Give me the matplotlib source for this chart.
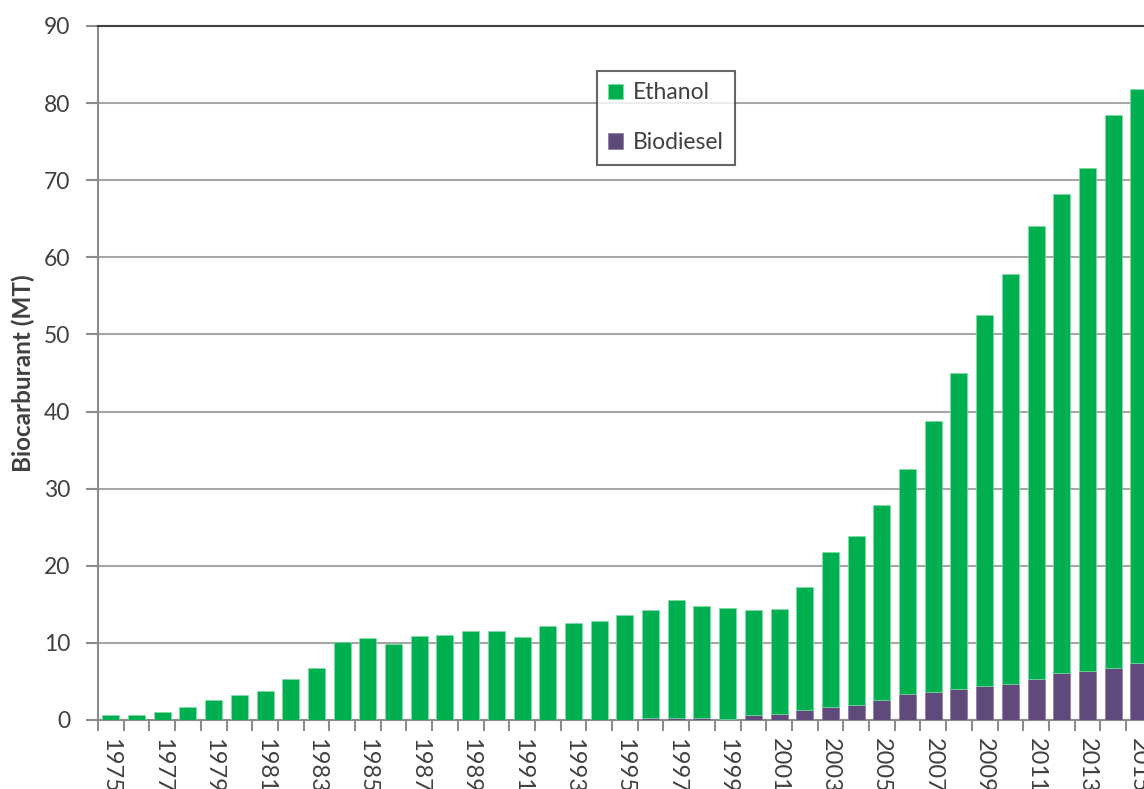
import matplotlib
matplotlib.use("Agg")
import matplotlib.pyplot as plt
import numpy as np

years = list(range(1975, 2016))
biodiesel = [0, 0, 0, 0, 0, 0, 0, 0, 0, 0,
             0, 0, 0, 0, 0, 0, 0, 0, 0, 0,
             0, 0.2, 0.25, 0.2, 0.15, 0.6, 0.74, 1.25, 1.65, 1.9,
             2.64, 3.33, 3.68, 3.98, 4.37, 4.71, 5.36, 6.05, 6.4, 6.7,
             7.43]
ethanol = [0.65, 0.65, 1.1, 1.65, 2.6, 3.3, 3.76, 5.36, 6.74, 10.1,
           10.63, 9.8, 10.85, 10.98, 11.5, 11.5, 10.8, 12.2, 12.54, 12.84,
           13.57, 14.02, 15.35, 14.58, 14.42, 13.62, 13.61, 16.05, 20.1, 21.9,
           25.26, 29.27, 35.12, 40.98, 48.13, 53.19, 58.7, 62.15, 65.2, 71.7,
           74.37]
yticks = [0, 10, 20, 30, 40, 50, 60, 70, 80, 90]

GREEN = "#00B050"
PURPLE = "#604A7B"
TXT = "#404040"
FONT = "Lato"

plt.rcParams["font.family"] = [FONT, "DejaVu Sans"]

fig = plt.figure(figsize=(11.44, 7.89), dpi=100)
ax = fig.add_axes([98 / 1144, 69 / 789, 1079.4 / 1144, 694 / 789])

x = np.arange(len(years))
ax.bar(x, biodiesel, width=0.66, color=PURPLE, label="Biodiesel", zorder=3,
       edgecolor="#8a7aa0", linewidth=0.5)
ax.bar(x, ethanol, width=0.66, bottom=biodiesel, color=GREEN, label="Ethanol",
       zorder=3, edgecolor="#7fdca5", linewidth=0.5)

ax.set_xlim(-0.5, len(years) + 0.5)
ax.set_ylim(0, 90)
ax.set_yticks(yticks)
ax.set_yticklabels([str(v) for v in yticks], fontsize=16.5, color=TXT)
ax.yaxis.grid(True, color="#a6a6a6", linewidth=1.5, zorder=0)
ax.set_axisbelow(True)

# x ticks: marks at category boundaries, labels at odd years
ax.set_xticks(np.arange(-0.5, len(years) + 1.0, 1.0))
ax.set_xticklabels([])
odd_idx = [i for i, y in enumerate(years) if y % 2 == 1]
ax.set_xticks(odd_idx, minor=True)
ax.set_xticklabels([str(years[i]) for i in odd_idx], minor=True,
                   rotation=270, fontsize=17, color=TXT, va="top", ha="center")
ax.tick_params(axis="x", which="major", length=8, width=1.5, color="#8c8c8c")
ax.tick_params(axis="x", which="minor", length=0, pad=13)
ax.tick_params(axis="y", length=9, width=1.5, color="#8c8c8c", pad=11)

for s in ["left", "bottom"]:
    ax.spines[s].set_color("#8c8c8c")
    ax.spines[s].set_linewidth(1.5)
ax.spines["top"].set_color("#404040")
ax.spines["top"].set_linewidth(1.5)
ax.spines["right"].set_visible(False)

ax.set_ylabel("Biocarburant (MT)", fontsize=17.5, fontweight="bold", color=TXT)
ax.yaxis.set_label_coords(-0.058, 0.5)

handles, labels = ax.get_legend_handles_labels()
leg = ax.legend(handles[::-1], labels[::-1], loc="upper left",
                bbox_to_anchor=(597 / 1144, 1 - 71 / 789),
                bbox_transform=fig.transFigure, fontsize=16.5,
                frameon=True, fancybox=False, edgecolor="#404040",
                handlelength=0.65, handleheight=0.65, handletextpad=0.4,
                labelspacing=1.25, borderpad=0.5, borderaxespad=0)
leg.get_frame().set_linewidth(1.5)
for t in leg.get_texts():
    t.set_color(TXT)

fig.savefig("out.png", dpi=100)
